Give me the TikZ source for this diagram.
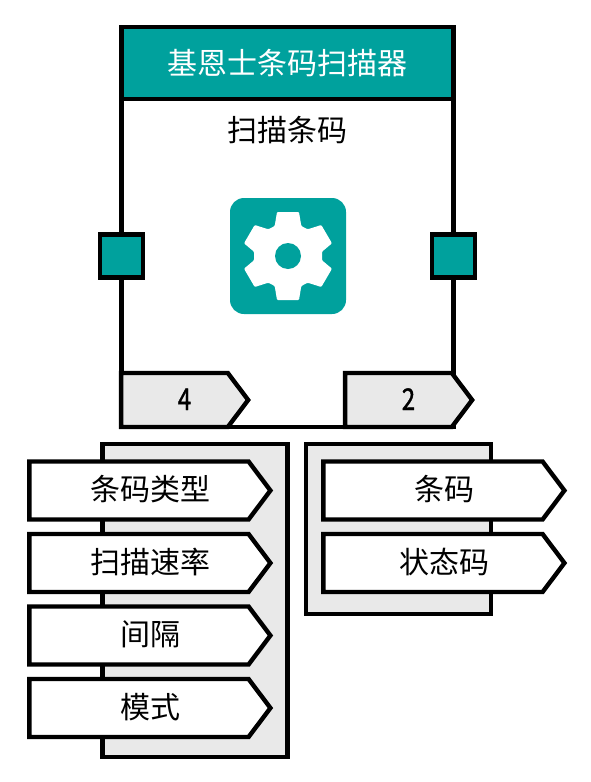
\documentclass[tikz,border=0pt]{standalone}
\usepackage{fontspec}
\setmainfont{Noto Sans CJK SC}
\newfontfamily\digitfont[FakeStretch=0.8,FakeBold=1.2]{Noto Sans CJK SC}
\usepackage{tikz}
\usetikzlibrary{positioning,shapes.symbols}
\usepackage{xcolor}
\definecolor{teal}{HTML}{00A19D}
\definecolor{panelgray}{HTML}{E9E9E9}

\begin{document}
\begin{tikzpicture}[x=1pt,y=-1pt,
          line width=4.4pt,
          every node/.style={font=\fontsize{30}{36}\selectfont, outer sep=0pt},
          block/.style={draw, fill=white, rectangle, minimum width=332pt, minimum height=400pt, inner sep=0pt},
          title/.style={draw, fill=teal, text=white, rectangle, minimum width=332pt, minimum height=72pt, inner sep=0pt},
          port/.style={draw, fill=teal, rectangle, minimum size=43pt, inner sep=0pt},
          panel/.style={draw, fill=panelgray, rectangle, minimum width=185pt, inner sep=0pt},
          tag/.style={draw, shape=signal, signal to=east, signal pointer angle=106, inner sep=0pt, text height=24pt, text depth=4pt},
          param/.style={tag, fill=white, minimum width=241pt, minimum height=58pt, execute at begin node={\hspace*{22pt}}},
          count/.style={tag, fill=panelgray, minimum width=127pt, minimum height=54pt, execute at begin node={\hspace*{20pt}\digitfont}}]
        \useasboundingbox (0,0) rectangle (590,782);
        % function block
        \node[block] (main) at (287.5,227) {};
        \node[title, anchor=north] (head) at (main.north) {基恩士条码扫描器};
        \node (func) at (287,130) {扫描条码};
        \node[fill=teal, rectangle, rounded corners=14pt, minimum size=116pt] (icon) at (288,256) {};
        \begin{scope}[shift={(icon.center)}]
          \fill[white, rounded corners=1pt] (11,-44) -- (13.3,-30) -- (19.7,-26.7) -- (33.3,-31) -- (44,-12.7) -- (34,-4.3) -- (34,4.3) -- (44,12.7) -- (33.3,31) -- (19.7,26.7) -- (13.3,30) -- (11,44) -- (-11,44) -- (-13.3,30) -- (-19.7,26.7) -- (-33.3,31) -- (-44,12.7) -- (-34,4.3) -- (-34,-4.3) -- (-44,-12.7) -- (-33.3,-31) -- (-19.7,-26.7) -- (-13.3,-30) -- (-11,-44) -- cycle;
          \fill[teal] (0,0) circle (13pt);
        \end{scope}
        \node[port] (pin) at (main.west |- icon) {};
        \node[port] (pout) at (main.east |- icon) {};
        \node[count] (cin) at (174.5,400) {4};
        \node[count] (cout) at (398.5,400) {2};
        % input list
        \node[panel, minimum height=313pt] (inlist) at (195,600.5) {};
        \node[param] (p1) at (139,490.5) {条码类型};
        \node[param, below=14.5pt of p1] (p2) {扫描速率};
        \node[param, below=14.5pt of p2] (p3) {间隔};
        \node[param, below=14.5pt of p3] (p4) {模式};
        % output list
        \node[panel, minimum height=170pt] (outlist) at (398.5,529) {};
        \node[param] (r1) at (433,490.5) {条码};
        \node[param, below=14.5pt of r1] (r2) {状态码};
\end{tikzpicture}
\end{document}
